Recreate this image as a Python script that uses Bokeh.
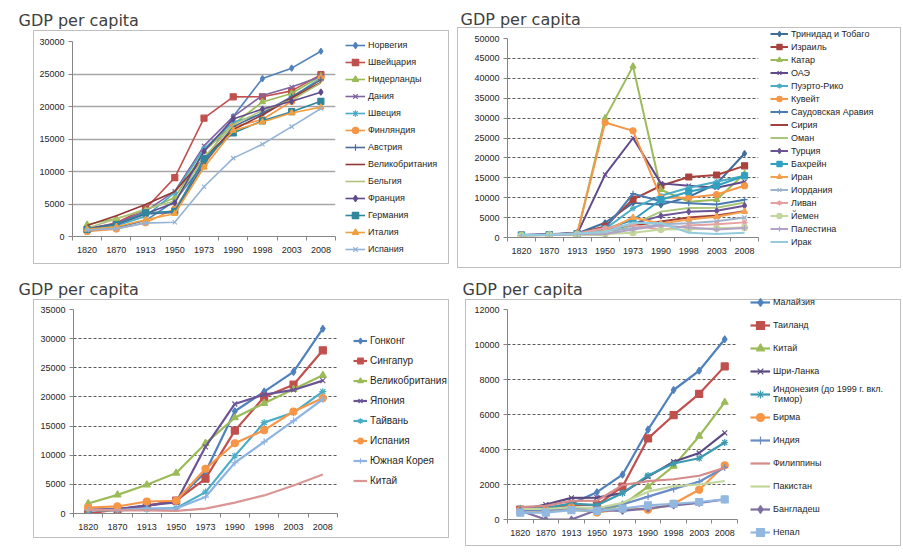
from bokeh.plotting import figure
from bokeh.models import Range1d, FixedTicker, Legend, LegendItem, ColumnDataSource, Title
from bokeh.layouts import column, row
from bokeh.embed import file_html
from bokeh.resources import INLINE

YEARS = ["1820", "1870", "1913", "1950", "1973", "1990", "1998", "2003", "2008"]

# ---- Panel 1: Western Europe ----
W_NAMES = ["Норвегия", "Швейцария", "Нидерланды", "Дания", "Швеция", "Финляндия", "Австрия",
           "Великобритания", "Бельгия", "Франция", "Германия", "Италия", "Испания"]
W_NORWAY = [801, 1360, 2447, 5463, 11324, 18466, 24300, 25900, 28500]
W_SWITZERLAND = [1090, 2102, 4266, 9064, 18204, 21482, 21500, 22400, 24900]
W_NETHERLANDS = [1838, 2757, 4049, 5996, 13081, 17262, 20700, 22000, 24700]
W_DENMARK = [1274, 2003, 3912, 6943, 13945, 18452, 21700, 23000, 24600]
W_SWEDEN = [1198, 1662, 3096, 6739, 13493, 17609, 18800, 21400, 24400]
W_FINLAND = [781, 1140, 2111, 4253, 11085, 16866, 18000, 20800, 24300]
W_AUSTRIA = [1218, 1863, 3465, 3706, 11235, 16905, 19000, 21500, 24100]
W_UK = [1706, 3190, 4921, 6939, 12025, 16430, 18700, 21300, 23700]
W_BELGIUM = [1319, 2692, 4220, 5462, 12170, 17197, 19400, 21000, 23600]
W_FRANCE = [1135, 1876, 3485, 5186, 13114, 18093, 19600, 20800, 22200]
W_GERMANY = [1077, 1839, 3648, 3881, 11966, 15929, 17800, 19200, 20800]
W_ITALY = [1117, 1499, 2564, 3502, 10634, 16313, 17600, 19000, 19900]
W_SPAIN = [1008, 1207, 2056, 2189, 7661, 12055, 14200, 16900, 19700]

# ---- Panel 2: Middle East ----
M_NAMES = ["Тринидад и Тобаго", "Израиль", "Катар", "ОАЭ", "Пуэрто-Рико", "Кувейт",
           "Саудовская Аравия", "Сирия", "Оман", "Турция", "Бахрейн", "Иран", "Иордания",
           "Ливан", "Йемен", "Палестина", "Ирак"]
M_TRINIDAD = [600, 800, 1000, 3700, 8700, 8200, 10200, 13500, 21100]
M_ISRAEL = [600, 700, 1000, 2800, 9600, 13000, 15200, 15700, 18000]
M_QATAR = [600, 700, 900, 30000, 43000, 12000, 9000, 9500, 16000]
M_UAE = [600, 700, 900, 15800, 25000, 13600, 13000, 12500, 14000]
M_PUERTO = [600, 700, 1200, 2144, 7300, 10500, 12500, 14000, 15500]
M_KUWAIT = [600, 700, 1000, 28900, 26800, 10000, 10000, 10800, 13000]
M_SAUDI = [600, 700, 900, 2200, 11000, 9100, 8600, 8300, 9500]
M_SYRIA = [600, 700, 1000, 1900, 3000, 4000, 5000, 5500, 6600]
M_OMAN = [500, 600, 800, 600, 3300, 6500, 7400, 7500, 8800]
M_TURKEY = [640, 825, 1213, 1623, 3477, 5441, 6500, 6700, 8000]
M_BAHRAIN = [600, 700, 900, 2100, 4400, 9500, 11500, 13000, 15500]
M_IRAN = [590, 720, 1000, 1720, 5000, 3500, 4500, 5200, 6500]
M_JORDAN = [600, 700, 900, 1600, 2400, 3300, 3600, 4100, 5000]
M_LEBANON = [600, 700, 1000, 2400, 3200, 1900, 3000, 3300, 3800]
M_YEMEN = [500, 600, 700, 900, 1200, 2000, 2100, 2300, 2500]
M_PALESTINE = [500, 600, 800, 900, 2000, 3000, 2500, 2000, 2400]
M_IRAQ = [600, 700, 1000, 1400, 3700, 3600, 1200, 900, 1200]

# ---- Panel 3: East Asia vs Europe ----
E_NAMES = ["Гонконг", "Сингапур", "Великобритания", "Япония", "Тайвань", "Испания",
           "Южная Корея", "Китай"]
E_HONGKONG = [600, 700, 1300, 2218, 7105, 17541, 20900, 24300, 31700]
E_SINGAPORE = [0, 700, 1300, 2219, 5977, 14220, 20000, 22100, 28000]
E_UK = [1706, 3190, 4921, 6939, 12025, 16430, 18900, 21300, 23700]
E_JAPAN = [669, 737, 1387, 1921, 11434, 18789, 20400, 21200, 22800]
E_TAIWAN = [550, 550, 747, 924, 3669, 9886, 15600, 17300, 20900]
E_SPAIN = [1008, 1207, 2056, 2189, 7661, 12055, 14300, 17500, 19800]
E_KOREA = [600, 604, 869, 854, 2824, 8704, 12300, 15900, 19600]
E_CHINA = [600, 530, 552, 448, 838, 1871, 3100, 4800, 6700]

# ---- Panel 4: South and Southeast Asia ----
S_NAMES = ["Малайзия", "Таиланд", "Китай", "Шри-Ланка", "Индонезия (до 1999 г. вкл.\nТимор)",
           "Бирма", "Индия", "Филиппины", "Пакистан", "Бангладеш", "Непал"]
S_MALAYSIA = [600, 663, 900, 1559, 2560, 5131, 7400, 8500, 10300]
S_THAILAND = [570, 608, 841, 817, 1874, 4633, 5960, 7180, 8750]
S_CHINA = [600, 530, 552, 448, 838, 1871, 3050, 4760, 6700]
S_SRILANKA = [550, 851, 1234, 1253, 1504, 2448, 3300, 3800, 4950]
S_INDONESIA = [612, 654, 904, 817, 1504, 2516, 3200, 3500, 4400]
S_BURMA = [504, 504, 685, 396, 628, 562, 900, 1700, 3100]
S_INDIA = [533, 533, 673, 619, 853, 1309, 1750, 2160, 2975]
S_PHILIPPINES = [704, 776, 1066, 1070, 1964, 2197, 2300, 2500, 2950]
S_PAKISTAN = [600, 600, 700, 643, 954, 1589, 1900, 2000, 2200]
S_BANGLADESH = [500, 0, 0, 540, 497, 640, 800, 950, 1150]
S_NEPAL = [397, 397, 539, 496, 622, 808, 900, 1000, 1150]

W_SERIES = [W_NORWAY, W_SWITZERLAND, W_NETHERLANDS, W_DENMARK, W_SWEDEN, W_FINLAND, W_AUSTRIA,
            W_UK, W_BELGIUM, W_FRANCE, W_GERMANY, W_ITALY, W_SPAIN]
M_SERIES = [M_TRINIDAD, M_ISRAEL, M_QATAR, M_UAE, M_PUERTO, M_KUWAIT, M_SAUDI, M_SYRIA, M_OMAN,
            M_TURKEY, M_BAHRAIN, M_IRAN, M_JORDAN, M_LEBANON, M_YEMEN, M_PALESTINE, M_IRAQ]
E_SERIES = [E_HONGKONG, E_SINGAPORE, E_UK, E_JAPAN, E_TAIWAN, E_SPAIN, E_KOREA, E_CHINA]
S_SERIES = [S_MALAYSIA, S_THAILAND, S_CHINA, S_SRILANKA, S_INDONESIA, S_BURMA, S_INDIA,
            S_PHILIPPINES, S_PAKISTAN, S_BANGLADESH, S_NEPAL]

# ---- styles ----
MARKERS = ["diamond", "square", "triangle", "x", "asterisk", "circle", "cross", None, None]
W_COLORS = ["#4F81BD", "#C0504D", "#9BBB59", "#8064A2", "#4BACC6", "#F79646", "#4A6C9B",
            "#943634", "#B3C27A", "#5F4B8B", "#31859C", "#F0A040", "#95B3D7"]
M_COLORS = ["#3F6E9E", "#A8423E", "#9BBB59", "#5F4B8B", "#4BACC6", "#F79646", "#4A7AB0",
            "#A0403C", "#A9C77A", "#6B5495", "#31A0C0", "#F5A050", "#9CB4CC", "#E6A0A0",
            "#C3D69B", "#B3A2C7", "#93CDDD"]
E_COLORS = ["#4F81BD", "#C0504D", "#9BBB59", "#6B5495", "#4BACC6", "#F79646", "#8EB4E3",
            "#D99694"]
S_COLORS = ["#4F81BD", "#C0504D", "#9BBB59", "#5B4A80", "#3A9AAF", "#F79646", "#6A8CC7",
            "#D58B8A", "#C3D69B", "#7F6FA0", "#93B8E0"]

FONT = "Liberation Sans"
BOX_COLOR = "#BFBFBF"
NAN = float("nan")


def frame_css(l, t, r, b):
    w, h = r - l, b - t
    g = f"linear-gradient({BOX_COLOR},{BOX_COLOR})"
    return ", ".join([
        f"{g} {l}px {t}px / {w}px 1px no-repeat",
        f"{g} {l}px {b}px / {w + 1}px 1px no-repeat",
        f"{g} {l}px {t}px / 1px {h}px no-repeat",
        f"{g} {r}px {t}px / 1px {h}px no-repeat",
    ])


def make_panel(names, series, colors, width, height, left, top, fw, fh, ymax, ystep,
               solid_grid, title_offset, box, leg_left, leg_top, leg_gw,
               leg_gh, leg_sp, leg_font, lw, msize):
    n = len(YEARS)
    cw = left + fw + 4
    p = figure(width=cw, height=height, output_backend="svg", toolbar_location=None,
               x_range=Range1d(-0.5, n - 0.5), y_range=Range1d(0, ymax), title=None,
               min_border_left=left, min_border_top=top,
               min_border_right=4, min_border_bottom=height - top - fh)
    p.frame_align = False
    p.outline_line_color = None
    p.background_fill_color = "white"
    p.border_fill_alpha = 0

    # the title panel fills the top border; text sits standoff/2 below its top
    p.add_layout(Title(text="GDP per capita", text_font="DejaVu Sans", text_font_size="16px",
                       text_font_style="normal", text_color="#404040", align="left",
                       vertical_align="top", offset=title_offset, standoff=top - 22),
                 "above")

    xs = list(range(n))
    p.xaxis.ticker = FixedTicker(ticks=xs, minor_ticks=[i - 0.5 for i in range(n + 1)])
    p.xaxis.major_label_overrides = {i: y for i, y in enumerate(YEARS)}
    p.xaxis.major_tick_line_color = None
    p.xaxis.major_tick_out = 0
    p.xaxis.minor_tick_out = 4
    p.xaxis.minor_tick_in = 0
    p.xaxis.minor_tick_line_color = "#868686"
    p.xaxis.major_label_standoff = 6
    p.xgrid.visible = False

    p.yaxis.ticker = FixedTicker(ticks=list(range(0, ymax + 1, ystep)))
    p.yaxis.major_tick_out = 4
    p.yaxis.major_tick_in = 0
    p.yaxis.minor_tick_line_color = None
    p.yaxis.major_tick_line_color = "#868686"
    p.yaxis.major_label_standoff = 4
    for ax in (p.xaxis, p.yaxis):
        ax.axis_line_color = "#868686"
        ax.major_label_text_font = FONT
        ax.major_label_text_font_size = "9px"
        ax.major_label_text_color = "#262626"

    if solid_grid:
        p.ygrid.grid_line_color = "#A6A6A6"
        p.ygrid.grid_line_width = 1.5
    else:
        p.ygrid.grid_line_color = "#5A5A5A"
        p.ygrid.grid_line_dash = "3 2"
        p.ygrid.grid_line_width = 1

    # legend lives in its own small figure next to the chart
    lg = figure(width=width - cw, height=height, output_backend="svg", toolbar_location=None,
                x_range=Range1d(0, 1), y_range=Range1d(0, 1), title=None,
                min_border_left=leg_left, min_border_top=leg_top,
                min_border_right=0, min_border_bottom=0)
    lg.frame_align = False
    lg.axis.visible = False
    lg.grid.visible = False
    lg.outline_line_color = None
    lg.background_fill_alpha = 0
    lg.border_fill_alpha = 0

    items = []
    for i, (name, vals) in enumerate(zip(names, series)):
        c = colors[i]
        m = MARKERS[i % len(MARKERS)]
        src = ColumnDataSource(dict(x=xs, y=vals))
        p.line("x", "y", source=src, line_color=c, line_width=lw)
        key = ColumnDataSource(dict(x=[NAN], y=[NAN]))
        rs = [lg.line("x", "y", source=key, line_color=c, line_width=lw)]
        if m is not None:
            p.scatter("x", "y", source=src, marker=m, size=msize,
                      fill_color=c, line_color=c, line_width=1.2)
            rs.append(lg.scatter("x", "y", source=key, marker=m, size=msize,
                                 fill_color=c, line_color=c, line_width=1.2))
        items.append(LegendItem(label=name, renderers=rs))

    leg = Legend(items=items, location="top_left", glyph_width=leg_gw, glyph_height=leg_gh,
                 label_height=leg_gh, spacing=leg_sp, padding=0, margin=0, label_standoff=3,
                 label_text_font=FONT, label_text_font_size=leg_font,
                 label_text_color="#262626", border_line_color=None,
                 background_fill_alpha=0)
    lg.add_layout(leg)
    return row(p, lg, styles={"background": frame_css(*box)})


# page layout: columns at x = 0 / 451, rows at y = 0 / 270
p1 = make_panel(W_NAMES, W_SERIES, W_COLORS, 451, 270, 72, 41, 263, 195, 30000, 5000,
                True, -54, (33, 30, 448, 263), 6, 37, 20, 16, 1, "9px", 1.6, 6)
p2 = make_panel(M_NAMES, M_SERIES, M_COLORS, 452, 270, 56, 38, 251, 199, 50000, 5000,
                False, -47, (6, 27, 449, 267), 8, 27, 18, 13, 0, "9px", 2, 6)
p3 = make_panel(E_NAMES, E_SERIES, E_COLORS, 451, 285, 73, 39, 264, 204, 35000, 5000,
                False, -55, (33, 29, 448, 267), 12, 61, 14, 19, 1, "10px", 2.2, 7)
p4 = make_panel(S_NAMES, S_SERIES, S_COLORS, 452, 285, 56, 39, 230, 210, 12000, 2000,
                False, -45, (14, 29, 449, 275), 9, 21, 20, 22, 1, "9px", 2.2, 7)

layout = column(row(p1, p2), row(p3, p4))
open("out.html", "w").write(file_html(layout, INLINE))
